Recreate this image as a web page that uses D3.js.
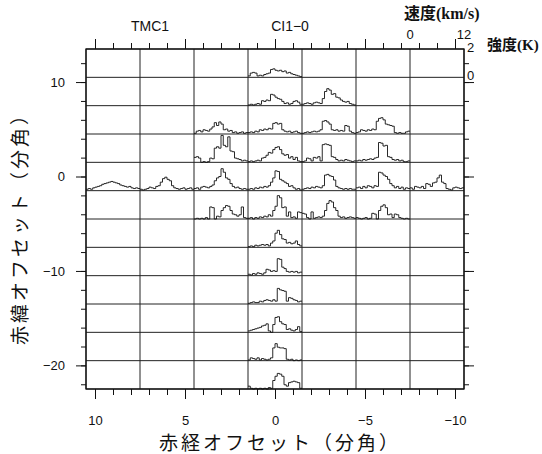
<!DOCTYPE html>
<html>
<head>
<meta charset="utf-8">
<script src="https://cdn.jsdelivr.net/npm/d3@7"></script>
<style>
  body { margin: 0; background: #fff; }
  svg { display: block; }
  .num { font-family: "Liberation Sans", Arial, sans-serif; font-size: 13px; fill: #111; }
  .head { font-family: "Liberation Sans", Arial, sans-serif; font-size: 14px; fill: #111; }
  .unit { font-family: "Liberation Serif", "Noto Sans CJK JP", serif; font-weight: bold; fill: #111; }
  .title { font-family: "Noto Sans CJK JP", sans-serif; font-size: 19px; letter-spacing: 3px; fill: #111; }
</style>
</head>
<body>
<svg id="chart" width="542" height="454"></svg>
<script>
// SETUP: map geometry
const svg = d3.select("#chart");
const frame = { left: 86, right: 464, top: 49, bottom: 389 };

// DATA: grid cells (offsets in arcmin) and tick labels
const raCenters = [9, 6, 3, 0, -3, -6, -9];
const decCenters = [12, 9, 6, 3, 0, -3, -6, -9, -12, -15, -18, -21];
const raTickLabels = [10, 5, 0, -5, -10];
const decTickLabels = [10, 0, -10, -20];
const velRange = [0, 12];     // km/s across one cell
const tempRange = [0, 2];     // K across one cell
const chanWidth = 0.5;        // km/s per channel

// spectra (K), one value per 0.5 km/s channel
const cell_0_12 = [0.1,0.3,0.35,0.3,0.1,0.15,0.1,0.2,0.25,0.3,0.55,0.6,0.5,0.45,0.5,0.4,0.45,0.3,0.35,0.25,0.2,0.15,0.1,0.05];

const cell_0_9  = [0.05,0.1,0.05,0.1,0.15,0.1,0.35,0.3,0.4,0.35,0.8,0.75,0.6,0.5,0.45,0.3,0.15,0.2,0.1,0.15,0.3,0.35,0.25,0.1];
const cell_m3_9 = [0.1,0.15,0.2,0.15,0.1,0.2,0.25,0.2,0.15,0.5,1.0,1.2,1.1,0.8,0.85,0.6,0.55,0.4,0.3,0.25,0.3,0.15,0.1,0.05];

const cell_p3_6 = [0.05,0.2,0.25,0.15,0.3,0.25,0.2,0.35,0.5,0.8,0.6,0.85,0.7,0.3,0.35,0.2,0.25,0.1,0.15,0.05,0.1,0.15,0.05,0.1];
const cell_0_6  = [0.1,0.15,0.1,0.2,0.15,0.3,0.25,0.35,0.3,0.4,0.35,0.75,0.8,0.7,0.75,0.3,0.2,0.15,0.2,0.1,0.15,0.2,0.1,0.05];
const cell_m3_6 = [0.05,0.1,0.15,0.1,0.15,0.2,0.15,0.2,0.3,0.9,0.95,0.85,0.7,0.3,0.25,0.3,0.2,0.25,0.2,0.6,0.55,0.2,0.1,0.05];
const cell_m6_6 = [0.1,0.15,0.3,0.25,0.2,0.3,0.25,0.35,0.3,0.9,1.1,1.15,1.0,0.7,0.65,0.6,0.55,0.1,0.05,0.1,0.05,0.05,0.15,0.2];

const cell_p3_3 = [0.35,0.4,0.3,0.0,0.05,0.0,0.05,0.3,0.25,1.0,1.1,1.0,1.9,1.2,1.1,1.8,0.8,0.75,0.3,0.25,0.2,0.1,0.15,0.1];
const cell_0_3  = [0.05,0.1,0.05,0.1,0.15,0.1,0.3,0.35,0.5,0.7,0.65,0.9,1.05,1.1,0.9,0.6,0.5,0.55,0.3,0.4,0.2,0.35,0.1,0.05];
const cell_m3_3 = [0.05,0.1,0.3,0.25,0.1,0.35,0.3,0.4,0.1,1.25,1.3,1.25,1.2,0.4,0.35,0.2,0.1,0.15,0.1,0.2,0.15,0.1,0.05,0.1];
const cell_m6_3 = [0.1,0.15,0.1,0.2,0.15,0.2,0.25,0.2,0.3,0.35,1.4,1.35,1.15,1.2,0.4,0.35,0.2,0.15,0.2,0.1,0.15,0.05,0.05,0.1];

const cell_p9_0 = [0.1,0.15,0.1,0.2,0.25,0.3,0.35,0.45,0.5,0.55,0.6,0.65,0.6,0.55,0.5,0.4,0.35,0.3,0.25,0.3,0.2,0.15,0.2,0.15];
const cell_p6_0 = [0.1,0.05,0.1,0.15,0.25,0.2,0.15,0.3,0.35,0.6,0.85,0.95,0.8,0.7,0.35,0.2,0.15,0.1,0.15,0.2,0.1,0.15,0.2,0.1];
const cell_p3_0 = [0.15,0.2,0.1,0.25,0.3,0.25,0.2,0.3,0.4,0.7,0.9,1.0,1.55,1.3,0.9,0.8,0.5,0.3,0.2,0.25,0.15,0.1,0.15,0.1];
const cell_0_0  = [0.1,0.15,0.1,0.2,0.15,0.25,0.2,0.3,0.25,0.35,0.6,0.9,1.4,1.35,0.8,0.7,0.6,0.5,0.3,0.35,0.2,0.1,0.15,0.05];
const cell_m3_0 = [0.1,0.15,0.2,0.15,0.25,0.2,0.3,0.25,0.2,0.35,1.1,1.15,1.05,1.0,0.75,0.3,0.2,0.15,0.1,0.15,0.1,0.15,0.1,0.1];
const cell_m6_0 = [0.2,0.25,0.15,0.3,0.2,0.35,0.3,0.2,0.35,0.3,1.3,1.25,1.1,1.0,0.8,0.5,0.35,0.2,0.3,0.15,0.25,0.1,0.2,0.15];
const cell_m9_0 = [0.2,0.1,0.3,0.25,0.2,0.3,0.15,0.5,0.45,0.3,0.55,0.6,0.9,1.1,0.6,0.5,0.15,0.1,0.05,0.2,0.25,0.2,0.15,0.2];

const cell_p3_m3 = [0.0,0.05,0.0,0.05,0.0,0.1,0.0,0.85,0.8,0.0,0.2,0.15,0.6,0.8,0.95,0.9,0.6,0.35,0.3,0.2,0.3,0.85,0.1,0.05];
const cell_0_m3  = [0.05,0.1,0.0,0.1,0.05,0.15,0.1,0.2,0.15,0.3,0.2,0.6,0.9,1.65,1.5,0.8,0.85,0.2,0.5,0.1,0.15,0.05,0.5,0.45];
const cell_m3_m3 = [0.4,0.35,0.1,0.0,0.5,0.05,0.1,0.15,0.1,0.2,0.6,1.1,1.3,1.2,0.8,0.6,0.2,0.1,0.15,0.05,0.1,0.15,0.1,0.05];
const cell_m6_m3 = [0.1,0.05,0.0,0.05,0.1,0.0,0.05,0.4,0.35,0.0,0.6,0.9,1.0,0.8,0.3,0.35,0.1,0.35,0.3,0.1,0.05,0.0,0.05,0.0];

const cell_0_m6  = [0.05,0.1,0.05,0.15,0.1,0.15,0.2,0.15,0.2,0.1,0.3,0.45,1.0,1.2,0.9,0.6,0.55,0.3,0.35,0.25,0.3,0.45,0.2,0.1];
const cell_0_m9  = [0.1,0.05,0.15,0.1,0.2,0.15,0.1,0.2,0.45,0.4,0.3,0.35,0.3,1.2,1.15,0.6,0.5,0.3,0.25,0.3,0.25,0.3,0.2,0.25];
const cell_0_m12 = [0.05,0.1,0.15,0.1,0.1,0.2,0.15,0.25,0.3,0.25,0.2,0.3,0.2,1.1,1.0,0.95,0.9,0.2,0.45,0.4,0.3,0.25,0.15,0.2];
const cell_0_m15 = [0.1,0.15,0.2,0.25,0.3,0.35,0.45,0.5,0.6,0.1,0.0,0.55,1.05,1.1,0.75,0.6,0.55,0.2,0.25,0.15,0.1,0.2,0.4,0.05];
const cell_0_m18 = [0.05,0.2,0.15,0.1,0.2,0.05,0.15,0.1,0.05,0.1,0.2,0.9,1.2,0.95,0.9,0.9,0.85,0.1,0.05,0.1,0.0,0.05,0.0,0.05];
const cell_0_m21 = [0.2,0.05,0.0,0.05,0.0,0.05,0.0,0.05,0.0,0.1,0.05,0.6,0.9,1.1,1.05,0.9,0.3,0.2,0.45,0.5,0.55,0.5,0.45,0.05];

const spectra = [
  { ra: 0, dec: 12, tb: cell_0_12 },
  { ra: 0, dec: 9, tb: cell_0_9 }, { ra: -3, dec: 9, tb: cell_m3_9 },
  { ra: 3, dec: 6, tb: cell_p3_6 }, { ra: 0, dec: 6, tb: cell_0_6 },
  { ra: -3, dec: 6, tb: cell_m3_6 }, { ra: -6, dec: 6, tb: cell_m6_6 },
  { ra: 3, dec: 3, tb: cell_p3_3 }, { ra: 0, dec: 3, tb: cell_0_3 },
  { ra: -3, dec: 3, tb: cell_m3_3 }, { ra: -6, dec: 3, tb: cell_m6_3 },
  { ra: 9, dec: 0, tb: cell_p9_0 }, { ra: 6, dec: 0, tb: cell_p6_0 },
  { ra: 3, dec: 0, tb: cell_p3_0 }, { ra: 0, dec: 0, tb: cell_0_0 },
  { ra: -3, dec: 0, tb: cell_m3_0 }, { ra: -6, dec: 0, tb: cell_m6_0 },
  { ra: -9, dec: 0, tb: cell_m9_0 },
  { ra: 3, dec: -3, tb: cell_p3_m3 }, { ra: 0, dec: -3, tb: cell_0_m3 },
  { ra: -3, dec: -3, tb: cell_m3_m3 }, { ra: -6, dec: -3, tb: cell_m6_m3 },
  { ra: 0, dec: -6, tb: cell_0_m6 }, { ra: 0, dec: -9, tb: cell_0_m9 },
  { ra: 0, dec: -12, tb: cell_0_m12 }, { ra: 0, dec: -15, tb: cell_0_m15 },
  { ra: 0, dec: -18, tb: cell_0_m18 }, { ra: 0, dec: -21, tb: cell_0_m21 }
];

// SCALES: RA runs right to left, Dec top to bottom
const half = 1.5;
const x = d3.scaleLinear()
  .domain([raCenters[0] + half, raCenters[raCenters.length - 1] - half])
  .range([frame.left, frame.right]);
const y = d3.scaleLinear()
  .domain([decCenters[0] + half, decCenters[decCenters.length - 1] - half])
  .range([frame.top, frame.bottom]);

// GRID: cell borders
const raEdges = [raCenters[0] + half, ...raCenters.map(d => d - half)];
const decEdges = [decCenters[0] + half, ...decCenters.map(d => d - half)];

svg.append("g").selectAll("line").data(raEdges).join("line")
  .attr("x1", d => x(d)).attr("x2", d => x(d))
  .attr("y1", frame.top).attr("y2", frame.bottom)
  .attr("stroke", "#222").attr("stroke-width", 1);

svg.append("g").selectAll("line").data(decEdges).join("line")
  .attr("x1", frame.left).attr("x2", frame.right)
  .attr("y1", d => y(d)).attr("y2", d => y(d))
  .attr("stroke", "#222").attr("stroke-width", 1);

svg.append("rect")
  .attr("x", frame.left).attr("y", frame.top)
  .attr("width", frame.right - frame.left).attr("height", frame.bottom - frame.top)
  .attr("fill", "none").attr("stroke", "#111").attr("stroke-width", 1.3);

// SPECTRA: stepped profiles, one per cell
spectra.forEach(s => {
  const v = d3.scaleLinear().domain(velRange).range([x(s.ra + half), x(s.ra - half)]);
  const t = d3.scaleLinear().domain(tempRange).range([y(s.dec - half), y(s.dec + half)]);
  const pts = s.tb.map((tb, i) => ({ v: i * chanWidth, tb }));
  pts.push({ v: velRange[1], tb: s.tb[s.tb.length - 1] });
  const line = d3.line().curve(d3.curveStepAfter).x(d => v(d.v)).y(d => t(d.tb));
  svg.append("path")
    .datum(pts)
    .attr("d", line)
    .attr("fill", "none")
    .attr("stroke", "#111")
    .attr("stroke-width", 0.9);
});

// AXES
const raMinor = d3.range(-10, 11);
const decMinor = d3.range(-22, 13, 2);
const clean = g => { g.select(".domain").remove(); g.selectAll("line").attr("stroke", "#111"); };

svg.append("g").attr("transform", `translate(0,${frame.top})`)
  .call(d3.axisTop(x).tickValues(raMinor).tickSize(6).tickFormat("")).call(clean);
svg.append("g").attr("transform", `translate(0,${frame.top})`)
  .call(d3.axisTop(x).tickValues(raTickLabels).tickSize(10).tickFormat("")).call(clean);

svg.append("g").attr("transform", `translate(0,${frame.bottom})`)
  .call(d3.axisBottom(x).tickValues(raMinor).tickSize(6).tickFormat("")).call(clean);
svg.append("g").attr("class", "num").attr("transform", `translate(0,${frame.bottom})`)
  .call(d3.axisBottom(x).tickValues(raTickLabels).tickSize(10).tickPadding(17))
  .call(clean)
  .call(g => g.selectAll("text").attr("class", "num").attr("font-size", null).attr("font-family", null));

svg.append("g").attr("transform", `translate(${frame.left},0)`)
  .call(d3.axisLeft(y).tickValues(decMinor).tickSize(5).tickFormat("")).call(clean);
svg.append("g").attr("transform", `translate(${frame.left},0)`)
  .call(d3.axisLeft(y).tickValues(decTickLabels).tickSize(10).tickPadding(11))
  .call(clean)
  .call(g => g.selectAll("text").attr("class", "num").attr("font-size", null).attr("font-family", null));

svg.append("g").attr("transform", `translate(${frame.right},0)`)
  .call(d3.axisRight(y).tickValues(decMinor).tickSize(5).tickFormat("")).call(clean);
svg.append("g").attr("transform", `translate(${frame.right},0)`)
  .call(d3.axisRight(y).tickValues(decTickLabels).tickSize(10).tickFormat("")).call(clean);

// velocity / intensity keys for the top-right cell
const keyV = d3.scaleLinear().domain(velRange)
  .range([x(raCenters[raCenters.length - 1] + half), x(raCenters[raCenters.length - 1] - half)]);
const keyT = d3.scaleLinear().domain(tempRange)
  .range([y(decCenters[0] - half), y(decCenters[0] + half)]);

svg.append("g").selectAll("text").data(velRange).join("text")
  .attr("class", "num").attr("text-anchor", "middle")
  .attr("x", d => keyV(d)).attr("y", frame.top - 10)
  .text(d => d);

svg.append("g").selectAll("text").data(tempRange).join("text")
  .attr("class", "num")
  .attr("x", frame.right + 3).attr("y", d => keyT(d) + 3)
  .text(d => d);

svg.append("text").attr("class", "unit").attr("font-size", 16)
  .attr("x", 404).attr("y", 19).text("速度(km/s)");
svg.append("text").attr("class", "unit").attr("font-size", 15)
  .attr("x", 487).attr("y", 50).text("強度(K)");

// LABELS
svg.append("text").attr("class", "head").attr("text-anchor", "middle")
  .attr("x", 150).attr("y", 31).text("TMC1");
svg.append("text").attr("class", "head").attr("text-anchor", "middle")
  .attr("x", 290).attr("y", 31).text("CI1−0");

svg.append("text").attr("class", "title").attr("text-anchor", "middle")
  .attr("x", (frame.left + frame.right) / 2 + 5).attr("y", 450)
  .text("赤経オフセット（分角）");

svg.append("text").attr("class", "title").attr("text-anchor", "middle")
  .attr("transform", `translate(27, ${(frame.top + frame.bottom) / 2 + 5}) rotate(-90)`)
  .text("赤緯オフセット（分角）");
</script>
</body>
</html>
